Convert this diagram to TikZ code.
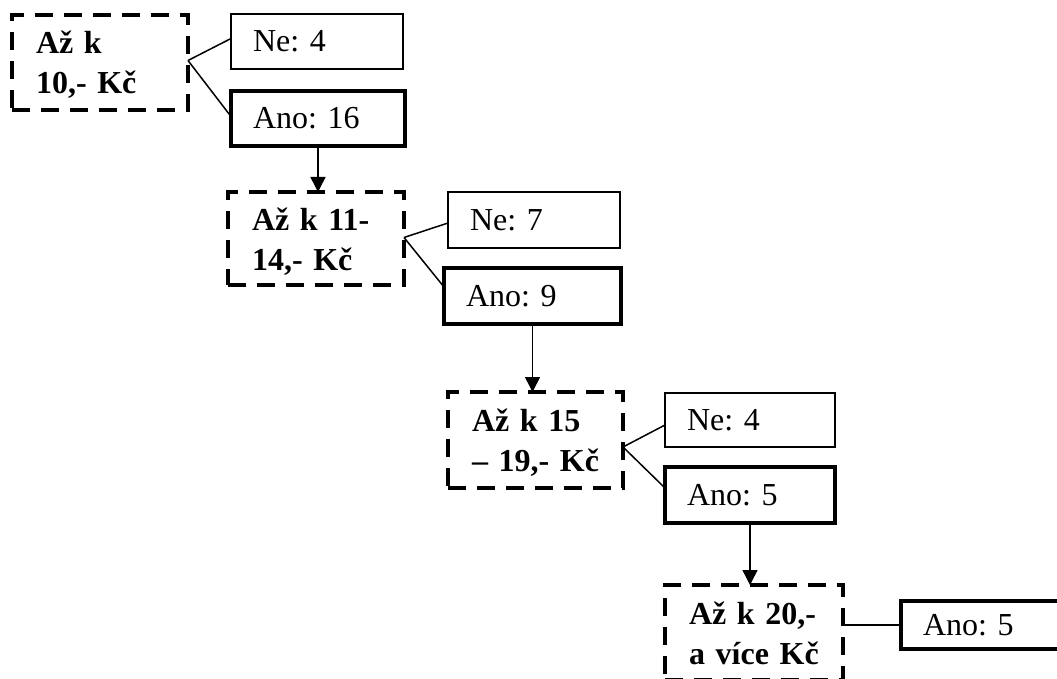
\documentclass[tikz,border=0pt]{standalone}
\usepackage{fontspec}
\setmainfont[WordSpace=0.5]{Liberation Serif}
\usetikzlibrary{arrows.meta}
\newcommand{\topln}{\rule{0pt}{31pt}}
\newcommand{\botln}{\rule[-8pt]{0pt}{8pt}}
\tikzset{
  every node/.style={font=\frenchspacing\fontsize{32}{40}\selectfont, outer sep=0pt},
  rangebox/.style={draw, dash pattern=on 18pt off 11pt, line width=4pt, anchor=north west, align=left,
    inner xsep=24pt, inner ysep=0pt, font=\frenchspacing\fontsize{32}{40}\selectfont\bfseries},
  ansbox/.style={draw, line width=1.5pt, anchor=north west, align=left, inner xsep=22pt, inner ysep=0pt},
  yesbox/.style={ansbox, line width=3.5pt},
  linkline/.style={line width=1.5pt},
  flowline/.style={line width=1.5pt, -{Triangle[width=15pt,length=15pt]}},
}
\begin{document}
\begin{tikzpicture}[x=1pt,y=-1pt]
\useasboundingbox (0,0) rectangle (1057,679);
\clip (0,0) rectangle (1057,679);
% level 1
\node[rangebox, text width=128pt, minimum height=95pt] (r1) at (12,15) {\topln\mbox{Až k}\\\mbox{10,- Kč}\botln};
\node[ansbox, text width=128pt, minimum height=55pt] (n1) at (231,14) {Ne: 4};
\node[yesbox, text width=130pt, minimum height=55pt] (a1) at (231,91) {Ano: 16};
% level 2
\node[rangebox, text width=128pt, minimum height=93pt] (r2) at (228,192) {\topln\mbox{Až k 11-}\\\mbox{14,- Kč}\botln};
\node[ansbox, text width=128pt, minimum height=56pt] (n2) at (448,192) {Ne: 7};
\node[yesbox, text width=133pt, minimum height=56pt] (a2) at (444,268) {Ano: 9};
% level 3
\node[rangebox, text width=127pt, minimum height=96pt] (r3) at (448,392) {\topln\mbox{Až k 15}\\\mbox{– 19,- Kč}\botln};
\node[ansbox, text width=126pt, minimum height=54pt] (n3) at (665,393) {Ne: 4};
\node[yesbox, text width=126pt, minimum height=56pt] (a3) at (665,467) {Ano: 5};
% level 4
\node[rangebox, text width=130pt, minimum height=95pt] (r4) at (665,585) {\topln\mbox{Až k 20,-}\\\mbox{a více Kč}\botln};
\node[yesbox, text width=156pt, minimum height=48pt] (a4) at (901,601) {Ano: 5};
% connectors
\draw[linkline] ([yshift=2pt]r1.east) -- ([yshift=3pt]n1.west);
\draw[linkline] ([yshift=2pt]r1.east) -- ([yshift=2pt]a1.west);
\draw[linkline] ([yshift=1pt]r2.east) -- ([yshift=-3pt]n2.west);
\draw[linkline] ([yshift=1pt]r2.east) -- ([yshift=9pt]a2.west);
\draw[linkline] ([yshift=-7pt]r3.east) -- ([yshift=-5pt]n3.west);
\draw[linkline] ([yshift=-7pt]r3.east) -- ([yshift=7pt]a3.west);
\draw[linkline] (a4.west) -- (r4.east |- a4.west);
% arrows
\draw[flowline] (a1.south) -- (a1.south |- r2.north);
\draw[flowline] (a2.south) -- (a2.south |- r3.north);
\draw[flowline] (a3.south) -- (a3.south |- r4.north);
\end{tikzpicture}
\end{document}
